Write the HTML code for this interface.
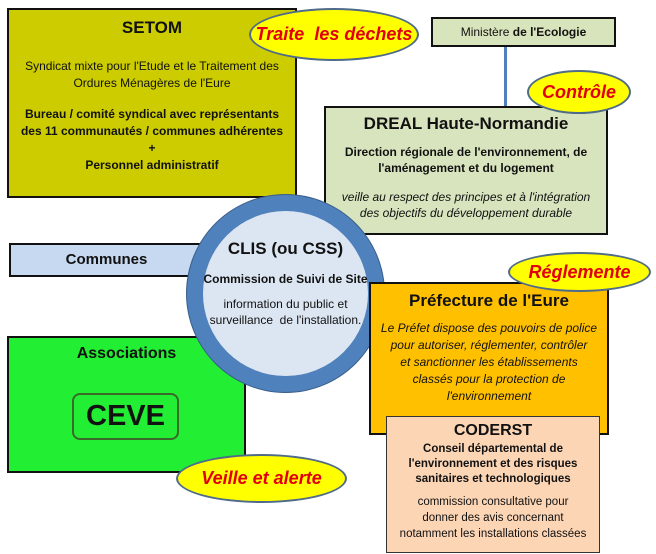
<!DOCTYPE html>
<html><head><meta charset="utf-8"><style>
*{margin:0;padding:0;box-sizing:border-box}
body{width:656px;height:554px;background:#fff;position:relative;overflow:hidden;font-family:"Liberation Sans",sans-serif;color:#111}
.b{position:absolute;border:2px solid #111;text-align:center}
.el{position:absolute;border-radius:50%;background:#ffff00;border:2px solid #4f6b8a;color:#e00010;font-style:italic;font-weight:bold;display:flex;align-items:center;justify-content:center;white-space:nowrap}
p{margin:0}
</style></head><body>

<div class="b" style="left:7px;top:8px;width:290px;height:190px;background:#cccc00;font-size:12px;line-height:17px">
<p style="font-size:17px;font-weight:bold;margin-top:8px;line-height:20px">SETOM</p>
<p style="margin-top:20px">Syndicat mixte pour l'Etude et le Traitement des<br>Ordures Ménagères de l'Eure</p>
<p style="margin-top:14px;font-weight:bold">Bureau / comité syndical avec représentants<br>des 11 communautés / communes adhérentes<br>+<br>Personnel administratif</p>
</div>

<div class="el" style="left:249px;top:8px;width:170px;height:53px;font-size:18px">Traite&nbsp; les déchets</div>

<div class="b" style="left:431px;top:17px;width:185px;height:30px;background:#d8e4bc;font-size:12px;line-height:26px">Ministère <b>de l'Ecologie</b></div>
<div style="position:absolute;left:504px;top:47px;width:3px;height:60px;background:#4f81bd"></div>

<div class="b" style="left:324px;top:106px;width:284px;height:129px;background:#d7e4bd;font-size:12px;line-height:16px">
<p style="font-size:17px;font-weight:bold;margin-top:5px;line-height:22px">DREAL Haute-Normandie</p>
<p style="margin-top:9px;font-weight:bold">Direction régionale de l'environnement, de<br>l'aménagement et du logement</p>
<p style="margin-top:13px;font-style:italic">veille au respect des principes et à l'intégration<br>des objectifs du développement durable</p>
</div>
<div class="el" style="left:527px;top:70px;width:104px;height:44px;font-size:18px">Contrôle</div>

<div class="b" style="left:9px;top:243px;width:195px;height:34px;background:#c6d9f1;font-size:15px;font-weight:bold;line-height:30px">Communes</div>

<div class="b" style="left:7px;top:336px;width:239px;height:137px;background:#22ee33">
<p style="font-size:16px;font-weight:bold;margin-top:7px">Associations</p>
<div style="position:absolute;left:63px;top:55px;width:107px;height:47px;border:2px solid #3a6a2a;border-radius:8px;font-size:29px;font-weight:bold;line-height:43px">CEVE</div>
</div>
<div class="el" style="left:176px;top:454px;width:171px;height:49px;font-size:18px">Veille et alerte</div>

<div style="position:absolute;left:187px;top:195px;width:197px;height:197px;border-radius:50%;background:#dce6f2;border:16px solid #4f81bd;box-shadow:0 0 0 1px #3a5f8a;text-align:center;font-size:12px;line-height:16px">
<p style="font-size:17px;font-weight:bold;margin-top:28px;line-height:20px">CLIS (ou CSS)</p>
<p style="font-weight:bold;margin-top:12px;margin-left:-20px;margin-right:-20px">Commission de Suivi de Site</p>
<p style="margin-top:9px;margin-left:-20px;margin-right:-20px">information du public et<br>surveillance&nbsp; de l'installation.</p>
</div>

<div class="b" style="left:369px;top:282px;width:240px;height:153px;background:#ffc000;font-size:12px;line-height:17px;font-style:italic">
<p style="font-size:17px;font-weight:bold;font-style:normal;margin-top:6px;line-height:22px">Préfecture de l'Eure</p>
<p style="margin-top:8px">Le Préfet dispose des pouvoirs de police<br>pour autoriser, réglementer, contrôler<br>et sanctionner les établissements<br>classés pour la protection de<br>l'environnement</p>
</div>
<div class="el" style="left:508px;top:252px;width:143px;height:40px;font-size:18px">Réglemente</div>

<div class="b" style="left:386px;top:416px;width:214px;height:137px;background:#fcd5b5;border:1px solid #333;font-size:11.5px;line-height:15px">
<p style="font-size:16px;font-weight:bold;margin-top:5px;line-height:18px">CODERST</p>
<p style="font-weight:bold;margin-top:2px">Conseil départemental de<br>l'environnement et des risques<br>sanitaires et technologiques</p>
<p style="margin-top:7px;line-height:16px">commission consultative pour<br>donner des avis concernant<br>notamment les installations classées</p>
</div>

</body></html>
